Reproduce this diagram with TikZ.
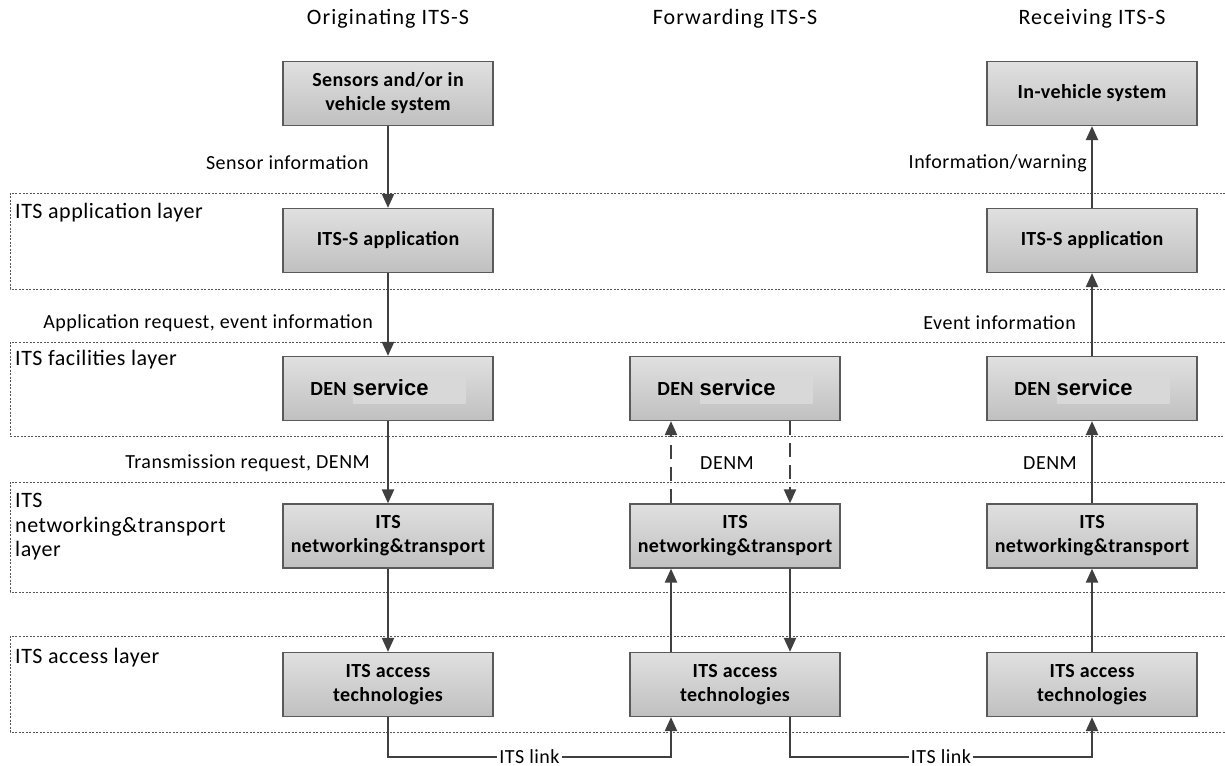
\documentclass[tikz,border=0pt]{standalone}
\usepackage{fontspec}
\setmainfont{Carlito}
\newfontfamily\arialfont{Liberation Sans}
\newfontfamily\lblfont{Carlito}[LetterSpace=2.5]
\newfontfamily\layfont{Carlito}[LetterSpace=2.5]
\newfontfamily\topfont{Carlito}[LetterSpace=5]
\newfontfamily\boxfont{Carlito}[LetterSpace=2]
\usetikzlibrary{arrows.meta}
\definecolor{arr}{HTML}{404040}
\definecolor{boxborder}{HTML}{5A5A5A}
\definecolor{boxtop}{HTML}{E0E0E0}
\definecolor{boxbot}{HTML}{C0C0C0}
\definecolor{layercol}{HTML}{555555}
\definecolor{servbg}{HTML}{D8D8D8}
\newcommand{\servtxt}{{\setlength{\fboxsep}{0pt}\colorbox{servbg}{\makebox[113pt][l]{\arialfont\fontsize{22}{24}\selectfont\bfseries\rule[-9pt]{0pt}{31pt}service}}}}
\newcommand{\dentxt}{DEN\hspace{6pt}\servtxt}
\begin{document}
\begin{tikzpicture}[x=1pt,y=-1pt,
  box/.style={draw=boxborder, line width=1.2pt, top color=boxtop, bottom color=boxbot,
    minimum width=210pt, minimum height=64pt, align=center, inner sep=0pt,
    font=\boxfont\fontsize{20}{24}\selectfont\bfseries},
  layer/.style={draw=layercol, line width=1pt, dash pattern=on 2pt off 1.5pt},
  flow/.style={draw=arr, line width=2.2pt, -{Triangle[length=14pt,width=12pt]}},
  dflow/.style={flow, dash pattern=on 14pt off 8pt},
  lbl/.style={font=\lblfont\fontsize{20}{24}\selectfont, inner sep=0pt, align=left},
  laylbl/.style={font=\layfont\fontsize{22}{24.5}\selectfont, inner sep=0pt, align=left, anchor=west},
  toplbl/.style={font=\topfont\fontsize{22}{24}\selectfont, inner sep=0pt},
  linklbl/.style={font=\lblfont\fontsize{20}{24}\selectfont, inner xsep=2pt, inner ysep=0pt, fill=white},
]
\useasboundingbox (0,0) rectangle (1225,765);

% layers
\draw[layer] (1225,193) -- (10,193) -- (10,289) -- (1225,289);
\draw[layer] (1225,342) -- (10,342) -- (10,436) -- (1225,436);
\draw[layer] (1225,482) -- (10,482) -- (10,592) -- (1225,592);
\draw[layer] (1225,636) -- (10,636) -- (10,732) -- (1225,732);

\node[laylbl] (l1) at (15,213) {ITS application layer};
\node[laylbl] (l2) at (15,360) {ITS facilities layer};
\node[laylbl] (l3) at (15,527) {ITS\\networking\&transport\\layer};
\node[laylbl] (l4) at (15,658) {ITS access layer};

% column titles
\node[toplbl] (t1) at (388,19) {Originating ITS-S};
\node[toplbl] (t2) at (735,19) {Forwarding ITS-S};
\node[toplbl] (t3) at (1092,19) {Receiving ITS-S};

% boxes
\node[box] (sens) at (388,93.5) {Sensors and/or in\\vehicle system};
\node[box] (inv) at (1092,93.5) {In-vehicle system};
\node[box] (appL) at (388,240.5) {ITS-S application};
\node[box] (appR) at (1092,240.5) {ITS-S application};
\node[box] (denL) at (388,388.5) {\dentxt};
\node[box] (denM) at (735,388.5) {\dentxt};
\node[box] (denR) at (1092,388.5) {\dentxt};
\node[box] (netL) at (388,536) {ITS\\networking\&transport};
\node[box] (netM) at (735,536) {ITS\\networking\&transport};
\node[box] (netR) at (1092,536) {ITS\\networking\&transport};
\node[box] (accL) at (388,684.5) {ITS access\\technologies};
\node[box] (accM) at (735,684.5) {ITS access\\technologies};
\node[box] (accR) at (1092,684.5) {ITS access\\technologies};

% left column
\draw[flow] (sens) -- (appL);
\draw[flow] (appL) -- (denL);
\draw[flow] (denL) -- (netL);
\draw[flow] (netL) -- (accL);
\node[lbl, anchor=east] (e1) at (369,163) {Sensor information};
\node[lbl, anchor=east] (e2) at (373,323) {Application request, event information};
\node[lbl, anchor=east] (e3) at (370,463) {Transmission request, DENM};

% middle column
\draw[flow] ([xshift=-64pt]accM.north) -- ([xshift=-64pt]netM.south);
\draw[dflow] ([xshift=-64pt]netM.north) -- ([xshift=-64pt]denM.south);
\draw[dflow] ([xshift=55pt]denM.south) -- ([xshift=55pt]netM.north);
\draw[flow] ([xshift=55pt]netM.south) -- ([xshift=55pt]accM.north);
\node[lbl] (e4) at (727,463) {DENM};

% right column
\draw[flow] (accR) -- (netR);
\draw[flow] (netR) -- (denR);
\draw[flow] (denR) -- (appR);
\draw[flow] (appR) -- (inv);
\node[lbl, anchor=east] (e5) at (1087,163) {Information/warning};
\node[lbl, anchor=east] (e6) at (1076,323) {Event information};
\node[lbl, anchor=east] (e7) at (1077,463) {DENM};

% ITS links
\draw[flow] (accL.south) -- ++(0,39.5) -| node[linklbl, pos=0.25] (k1) {ITS link} ([xshift=-64pt]accM.south);
\draw[flow] ([xshift=55pt]accM.south) -- ++(0,39.5) -| node[linklbl, pos=0.25] (k2) {ITS link} (accR.south);
\end{tikzpicture}
\end{document}
